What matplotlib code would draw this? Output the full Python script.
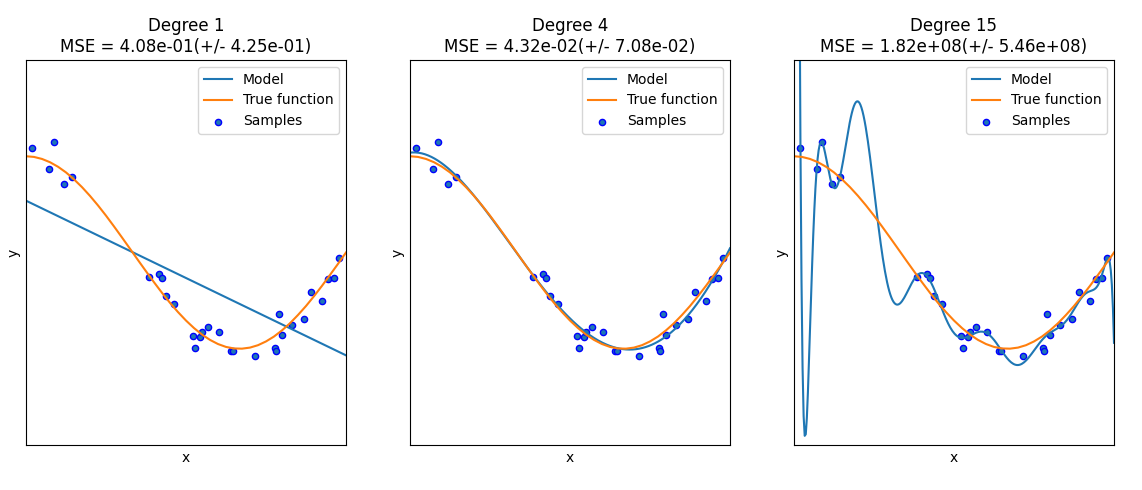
import numpy as np
import matplotlib.pyplot as plt

# sample points
x_samples = [0.0202, 0.0710, 0.0871, 0.1183, 0.1434, 0.3834, 0.4147, 0.4237,
             0.4376, 0.4615, 0.5218, 0.5289, 0.5449, 0.5488, 0.5680, 0.6028,
             0.6399, 0.6459, 0.7152, 0.7782, 0.7805, 0.7917, 0.7992, 0.8326,
             0.8700, 0.8918, 0.9256, 0.9447, 0.9637, 0.9786]
y_samples = [1.090, 0.868, 1.148, 0.707, 0.785, -0.251, -0.220, -0.261,
             -0.448, -0.531, -0.865, -0.990, -0.879, -0.831, -0.772, -0.831,
             -1.028, -1.021, -1.073, -0.997, -1.028, -0.637, -0.855, -0.751,
             -0.696, -0.409, -0.499, -0.271, -0.261, -0.054]

# orange "true function" curve, read at steps of 0.025
x_true = [0.000, 0.025, 0.050, 0.075, 0.100, 0.125, 0.150, 0.175, 0.200,
          0.225, 0.250, 0.275, 0.300, 0.325, 0.350, 0.375, 0.400, 0.425,
          0.450, 0.475, 0.500, 0.525, 0.550, 0.575, 0.600, 0.625, 0.650,
          0.675, 0.700, 0.725, 0.750, 0.775, 0.800, 0.825, 0.850, 0.875,
          0.900, 0.925, 0.950, 0.975, 1.000]
y_true = [1.000, 0.993, 0.972, 0.938, 0.891, 0.832, 0.760, 0.679, 0.588,
          0.489, 0.383, 0.271, 0.156, 0.039, -0.079, -0.195, -0.309, -0.419,
          -0.523, -0.619, -0.707, -0.785, -0.853, -0.908, -0.951, -0.981,
          -0.997, -0.999, -0.988, -0.963, -0.924, -0.873, -0.809, -0.735,
          -0.649, -0.556, -0.454, -0.346, -0.233, -0.118, 0.000]

degrees = [1, 4, 15]
mse_titles = ["4.08e-01(+/- 4.25e-01)", "4.32e-02(+/- 7.08e-02)",
              "1.82e+08(+/- 5.46e+08)"]

X = np.array(x_samples)
y = np.array(y_samples)
X_test = np.linspace(0, 1, 300)

fig = plt.figure(figsize=(11.42, 4.9), dpi=100)
W, H = 1142, 490
lefts = [26, 410, 794]

for i in range(3):
    ax = fig.add_axes([lefts[i] / W, 45 / H, 320 / W, 385 / H])
    ax.set_xticks(())
    ax.set_yticks(())

    # least squares polynomial fit on the samples
    p = np.polynomial.Polynomial.fit(X, y, degrees[i])
    ax.plot(X_test, p(X_test), label="Model")
    ax.plot(x_true, y_true, label="True function")
    ax.scatter(X, y, edgecolor='b', s=20, label="Samples")
    ax.set_xlabel("x")
    ax.set_ylabel("y")
    ax.set_xlim((0, 1))
    ax.set_ylim((-2, 2))
    ax.legend(loc="upper right")
    ax.set_title("Degree {}\nMSE = {}".format(degrees[i], mse_titles[i]))

fig.savefig("out.png", dpi=100)
